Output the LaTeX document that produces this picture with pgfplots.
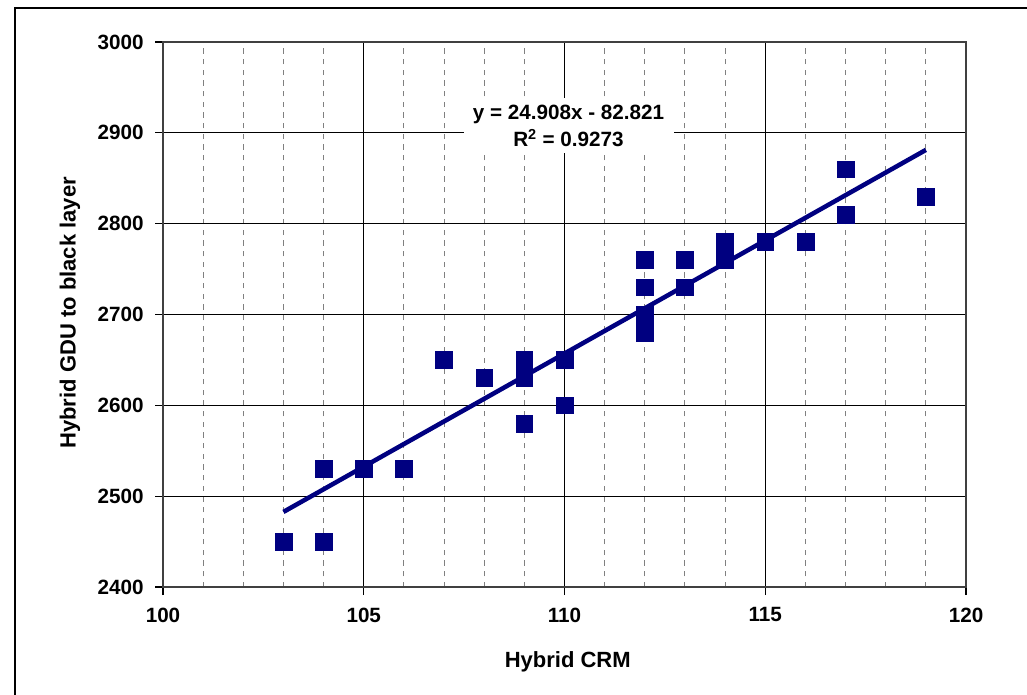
\documentclass[border=0pt]{standalone}
\usepackage{pgfplots}
\pgfplotsset{compat=1.18}
\usepackage{fontspec}
\setmainfont{Liberation Sans}
\definecolor{navy}{HTML}{000080}
\definecolor{axgray}{HTML}{404040}
\begin{document}
\begin{tikzpicture}
\useasboundingbox (0pt,0pt) rectangle (770.25pt,-520.5pt);
\draw[line width=1.3pt,black] (11.25pt,-525pt) -- (11.25pt,-6pt) -- (780pt,-6pt);
\begin{axis}[
  at={(122.25pt,-440.25pt)}, anchor=south west,
  scale only axis, width=602.25pt, height=408.75pt,
  xmin=100, xmax=120, ymin=2400, ymax=3000,
  xtick={100,105,110,115,120}, ytick={2400,2500,...,3000},
  minor x tick num=4,
  xtick pos=left, ytick pos=left,
  tick align=outside, major tick length=6pt, minor tick length=0pt,
  grid=both,
  major grid style={black, line width=0.7pt},
  minor grid style={black!50, line width=0.7pt, dash pattern=on 4pt off 4pt},
  axis line style={axgray, line width=1.2pt},
  tick style={black, line width=0.8pt},
  /pgf/number format/assume math mode=true,
  /pgf/number format/set thousands separator={},
  ticklabel style={font=\fontsize{15.5}{18}\selectfont\bfseries},
  xticklabel style={yshift=-6pt},
  yticklabel style={xshift=-5pt},
  xlabel={Hybrid CRM}, ylabel={Hybrid GDU to black layer},
  label style={font=\fontsize{16.5}{19}\selectfont\bfseries},
  xlabel style={at={(axis description cs:0.504,-0.138)}, anchor=center},
  ylabel style={at={(axis description cs:-0.116,0.503)}, anchor=center},
  clip=false,
]
\addplot[only marks, mark=square*, mark size=6.3pt, mark options={fill=navy, draw=navy}] coordinates {
(103,2450) (104,2450) (104,2530) (105,2530) (106,2530) (107,2650) (108,2630)
(109,2650) (109,2630) (109,2580) (110,2650) (110,2600)
(112,2760) (112,2730) (112,2700) (112,2680)
(113,2760) (113,2730) (114,2780) (114,2760) (115,2780) (116,2780)
(117,2860) (117,2810) (119,2830)
};
\addplot[navy, line width=3.4pt, no marks] coordinates {(103,2482.7) (119,2881.2)};
\node[fill=white, inner xsep=7pt, inner ysep=5pt, align=center,
  font=\fontsize{15.5}{20}\selectfont\bfseries] at (axis cs:110.1,2908)
  {y = 24.908x - 82.821\\R$^{\mathbf{2}}$ = 0.9273};
\end{axis}
\end{tikzpicture}
\end{document}
